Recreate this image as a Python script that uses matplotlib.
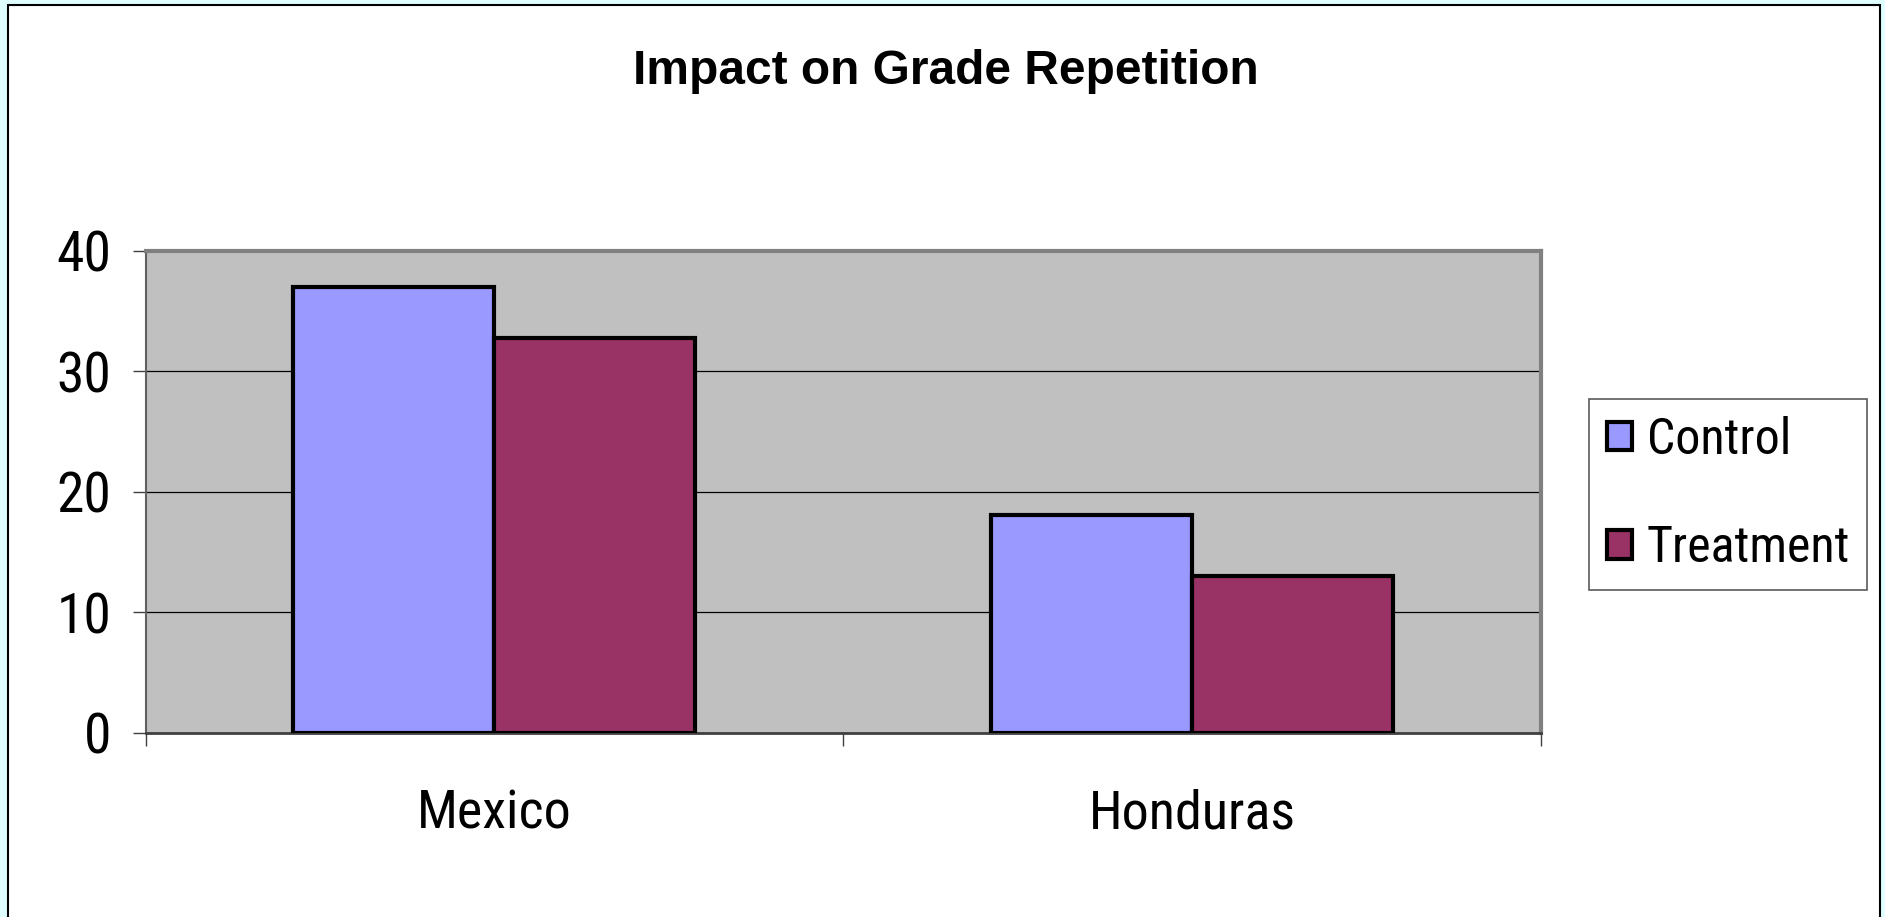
import numpy as np
import matplotlib.pyplot as plt
from matplotlib.patches import Rectangle

countries = ["Mexico", "Honduras"]
control = [37.0, 18.1]
treatment = [32.8, 13.0]
series_names = ["Control", "Treatment"]
yticks = [0, 10, 20, 30, 40]

narrow = ["Roboto Condensed", "Liberation Sans", "DejaVu Sans"]

fig = plt.figure(figsize=(18.85, 9.17), dpi=100, facecolor="#dfffff")

# white chart area with a dark frame, behind everything
fig.patches.append(Rectangle((8 / 1885, -0.02), 1872 / 1885, 1.02 - 5 / 917,
                             transform=fig.transFigure, facecolor="white",
                             edgecolor="black", linewidth=1.5, zorder=-5))

ax = fig.add_axes([0.0772, 0.2007, 0.7402, 0.5256])
ax.set_zorder(2)
ax.set_facecolor("#c0c0c0")

x = np.arange(len(countries))
w = 0.288
ax.bar(x - w / 2, control, w, color="#9999ff", edgecolor="black",
       linewidth=3, label=series_names[0], zorder=3)
ax.bar(x + w / 2, treatment, w, color="#993366", edgecolor="black",
       linewidth=3, label=series_names[1], zorder=3)

ax.set_xlim(-0.5, len(countries) - 0.5)
ax.set_ylim(0, 40)
ax.set_yticks(yticks)
ax.set_yticklabels([str(v) for v in yticks], family=narrow, fontsize=40)
ax.yaxis.grid(True, color="black", linewidth=0.9, zorder=1)
ax.set_axisbelow(True)

ax.set_xticks(x)
ax.set_xticklabels(countries, family=narrow, fontsize=39)
ax.tick_params(axis="x", which="major", length=0, pad=40)
ax.set_xticks(np.arange(-0.5, len(countries)), minor=True)
ax.tick_params(axis="x", which="minor", length=9.5, width=1, color="#404040")
ax.tick_params(axis="y", length=9.5, width=1, color="#404040", pad=15)

for side in ["top", "right"]:
    ax.spines[side].set_color("#808080")
    ax.spines[side].set_linewidth(3)
ax.spines["left"].set_color("#606060")
ax.spines["left"].set_linewidth(1.5)
ax.spines["bottom"].set_color("#404040")
ax.spines["bottom"].set_linewidth(2)

fig.text(0.502, 1 - 84 / 917, "Impact on Grade Repetition", ha="center", va="baseline",
         fontsize=34.5, fontweight="bold", family="Liberation Sans")

leg = fig.legend(loc="center left", bbox_to_anchor=(1589 / 1885, 1 - 494 / 917),
                 prop={"family": narrow, "size": 36}, frameon=True, fancybox=False,
                 edgecolor="#303030", handlelength=0.5, handleheight=0.5,
                 handletextpad=0.3, labelspacing=1.2, borderpad=0.35,
                 borderaxespad=0)
leg.set_zorder(5)
leg.get_frame().set_linewidth(1.2)
for h in leg.legend_handles:
    h.set_linewidth(3)

fig.savefig("out.png", dpi=100, facecolor=fig.get_facecolor())
